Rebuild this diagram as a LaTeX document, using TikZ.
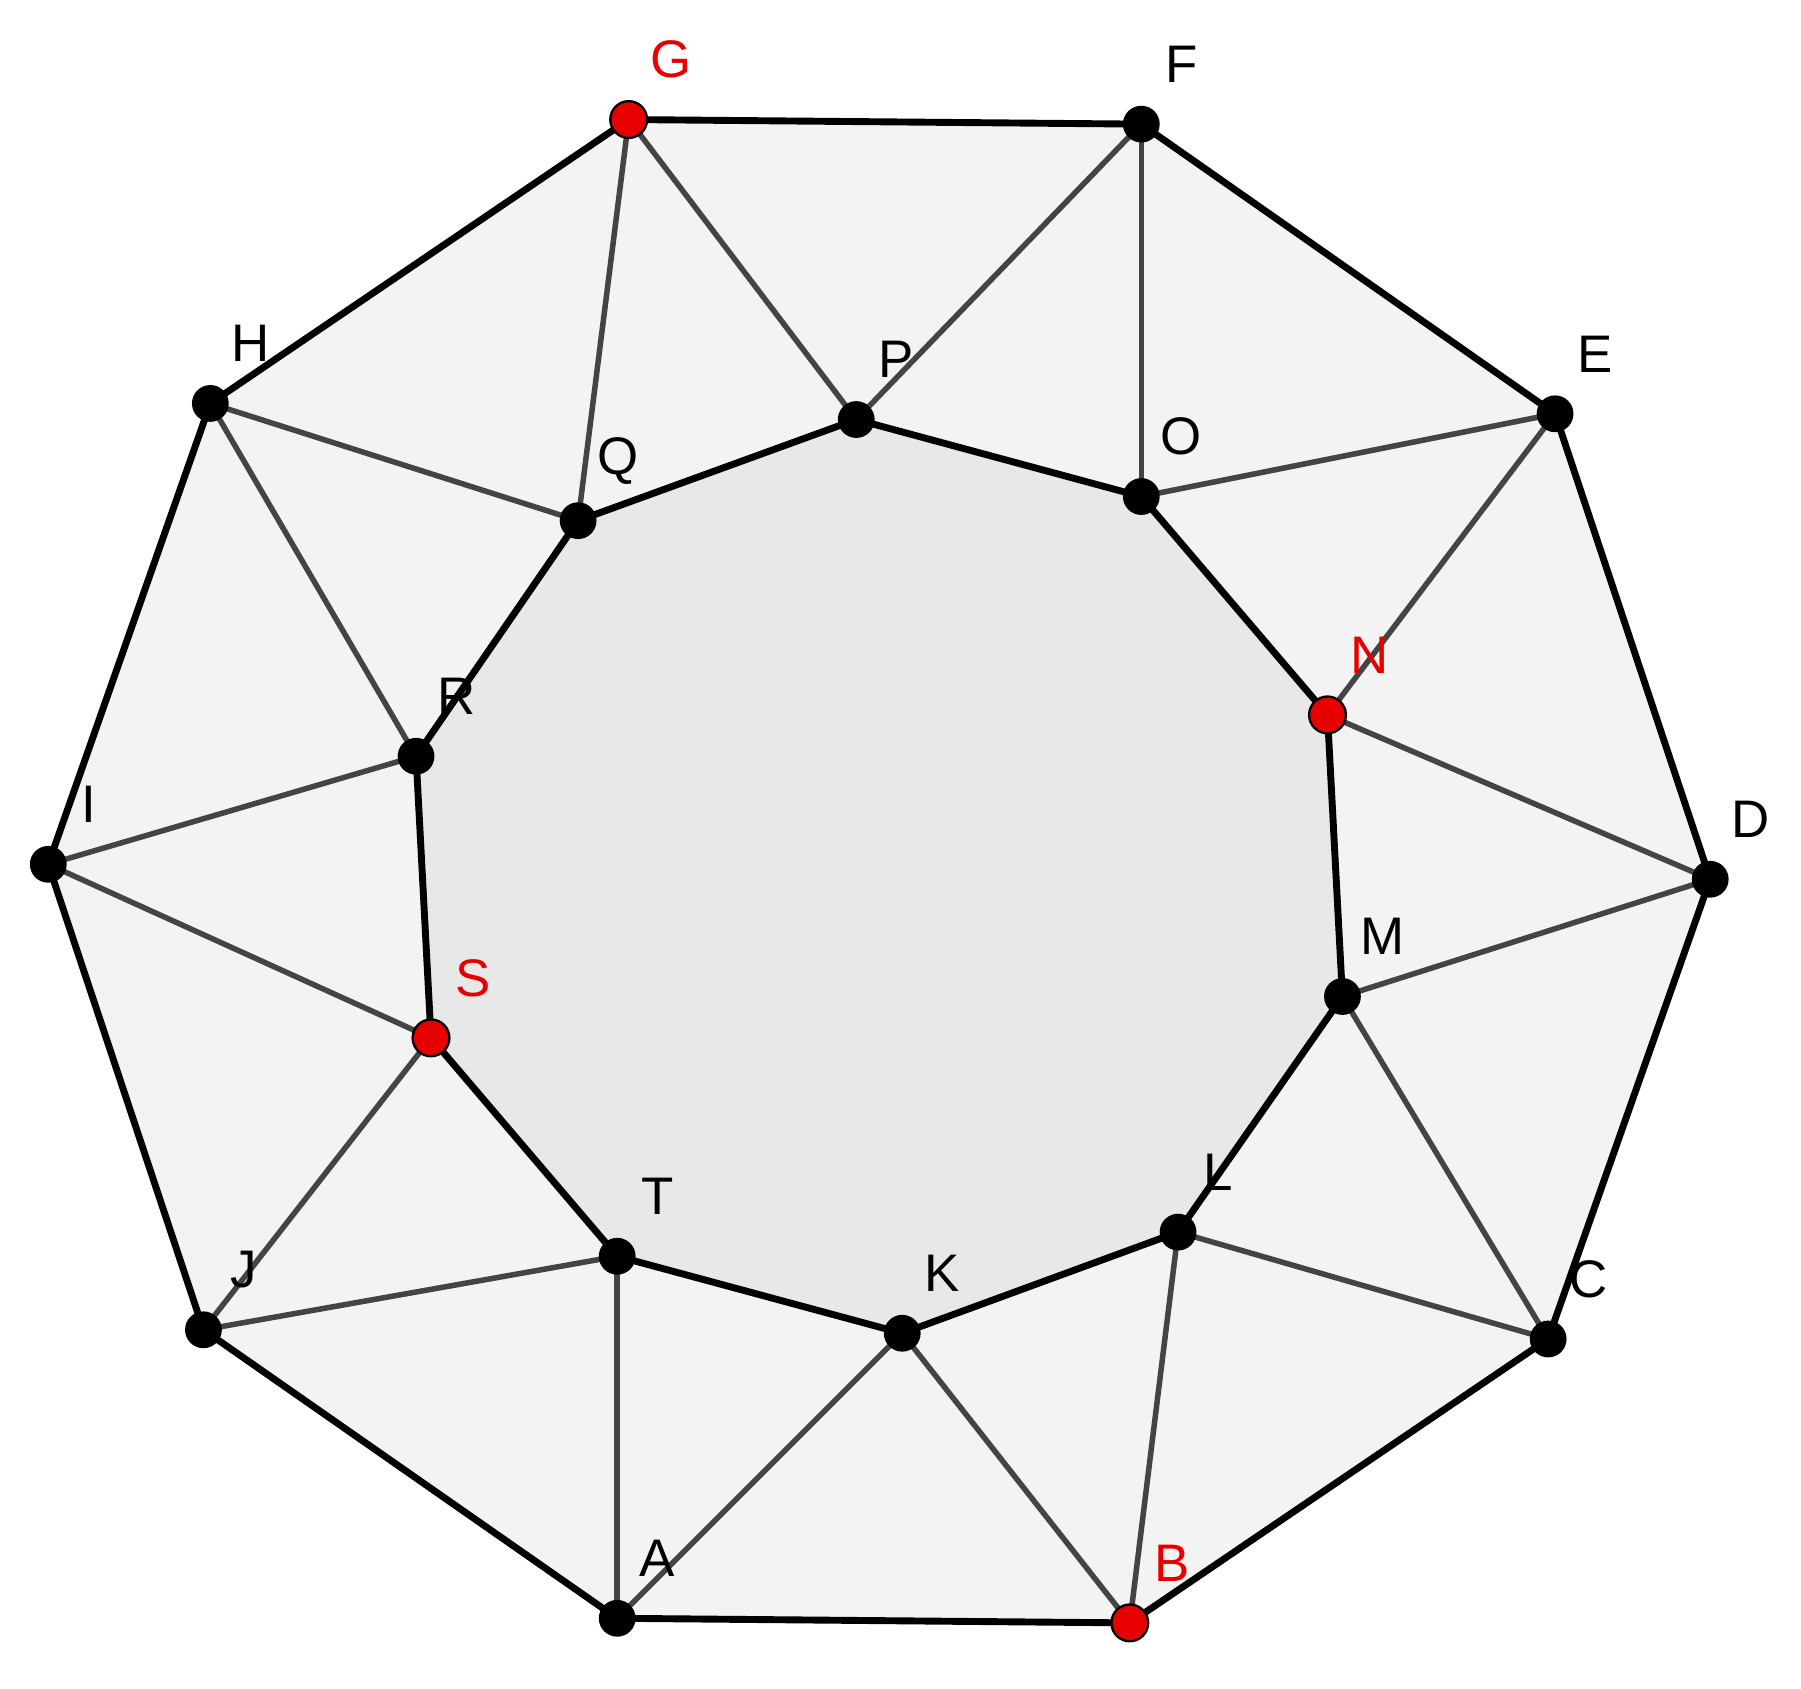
\documentclass[tikz,border=0pt]{standalone}
\usepackage{fontspec}
\setmainfont{Liberation Sans}
\usetikzlibrary{calc}
\definecolor{outerfill}{HTML}{F3F3F3}
\definecolor{innerfill}{HTML}{E8E8E8}
\definecolor{spoke}{HTML}{444444}
\definecolor{hl}{HTML}{E60000}
\begin{document}
\begin{tikzpicture}[x=0.5pt,y=-0.5pt,
  bk/.style={line width=3pt,black,line join=round},
  sp/.style={line width=2.4pt,spoke},
  dot/.style={circle,fill=black,minimum size=16pt,inner sep=0pt},
  rdot/.style={circle,fill=hl,draw=black,line width=1pt,minimum size=16pt,inner sep=0pt},
  lab/.style={font=\fontsize{23}{23}\selectfont,text=black},
  rlab/.style={font=\fontsize{23}{23}\selectfont,text=hl}]
\useasboundingbox (0,0) rectangle (1567,1469);
\foreach \n/\x/\y in {G/547/104,F/993/108,E/1353/360,D/1488/765,C/1347/1165,B/983/1412,A/537/1408,J/177/1157,I/42/752,H/183/351,
P/745/365,O/993/432,N/1155/622,M/1168/867,L/1025/1072,K/785/1160,T/537/1093,S/375/903,R/362/658,Q/503/453}
  \coordinate (\n) at (\x,\y);
\fill[outerfill] (G)--(F)--(E)--(D)--(C)--(B)--(A)--(J)--(I)--(H)--cycle;
\fill[innerfill] (P)--(O)--(N)--(M)--(L)--(K)--(T)--(S)--(R)--(Q)--cycle;
\foreach \a/\b in {G/Q,G/P,F/P,F/O,E/O,E/N,D/N,D/M,C/M,C/L,B/L,B/K,A/K,A/T,J/T,J/S,I/S,I/R,H/R,H/Q}
  \draw[sp] (\a)--(\b);
\draw[bk] (G)--(F)--(E)--(D)--(C)--(B)--(A)--(J)--(I)--(H)--cycle;
\draw[bk] (P)--(O)--(N)--(M)--(L)--(K)--(T)--(S)--(R)--(Q)--cycle;
\foreach \n in {F,E,D,C,A,J,I,H,P,O,M,L,K,T,R,Q}{
  \node[dot] (d\n) at (\n) {};
  \node[lab] (l\n) at ($(\n)+(35,-52)$) {\n};}
\foreach \n in {G,B,N,S}{
  \node[rdot] (d\n) at (\n) {};
  \node[rlab] (l\n) at ($(\n)+(37,-52)$) {\n};}
\end{tikzpicture}
\end{document}
